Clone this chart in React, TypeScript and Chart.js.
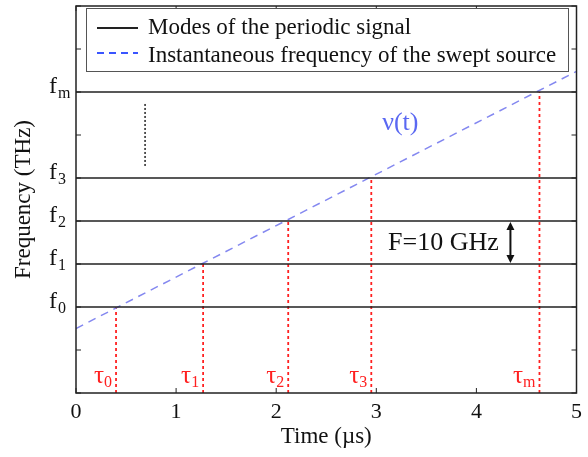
import React, { useEffect, useRef } from "react";
import { Chart, registerables } from "chart.js";

Chart.register(...registerables);

// ---- data ----
const timeTicks = [0, 1, 2, 3, 4, 5];
const modeNames = ["0", "1", "2", "3", "m"];
const modeLevels = [2, 3, 4, 5, 7];
const tauNames = ["0", "1", "2", "3", "m"];
const tauTimes = [0.4, 1.27, 2.12, 2.95, 4.63];
const sweepTimes = [0, 5];
const sweepFreqs = [1.5, 7.48];
const ellipsisTimes = [0.69, 0.69];
const ellipsisFreqs = [5.28, 6.77];
const spacingLabel = "F=10 GHz";
const spacingArrowTime = 4.34;
const spacingLabelTime = 3.67;
const sweepLabel = "ν(t)";
const sweepLabelTime = 3.24;
const sweepLabelFreq = 6.28;
const seriesLabels = ["Modes of the periodic signal", "Instantaneous frequency of the swept source"];

const SERIF = "'Liberation Serif', 'Times New Roman', serif";
const BLACK = "#222";
const BLUE_LINE = "#8488f0";
const BLUE_LEG = "#3a55ff";
const BLUE_TXT = "#5a68f2";
const RED = "#ff2020";

export default function App() {
  const ref = useRef<HTMLCanvasElement | null>(null);

  useEffect(() => {
    document.body.style.margin = "0";
    const canvas = ref.current;
    if (!canvas) return;

    const modeData: any[] = [];
    modeLevels.forEach((l) => {
      modeData.push({ x: 0, y: l }, { x: 5, y: l }, { x: 5, y: null });
    });
    const tauData: any[] = [];
    tauTimes.forEach((t, i) => {
      tauData.push({ x: t, y: 0 }, { x: t, y: modeLevels[i] }, { x: t, y: null });
    });

    const overlay = {
      id: "overlay",
      afterDraw(chart: any) {
        const ctx = chart.ctx as CanvasRenderingContext2D;
        const a = chart.chartArea;
        const xs = chart.scales.x;
        const ys = chart.scales.y;
        ctx.save();
        // frame
        ctx.strokeStyle = BLACK;
        ctx.lineWidth = 1.5;
        ctx.setLineDash([]);
        ctx.strokeRect(a.left, a.top, a.right - a.left, a.bottom - a.top);
        // inward ticks
        ctx.lineWidth = 1;
        timeTicks.forEach((t) => {
          const px = xs.getPixelForValue(t);
          ctx.beginPath();
          ctx.moveTo(px, a.bottom);
          ctx.lineTo(px, a.bottom - 5);
          ctx.moveTo(px, a.top);
          ctx.lineTo(px, a.top + 5);
          ctx.stroke();
        });
        for (let v = 0; v <= 9; v++) {
          const py = ys.getPixelForValue(v);
          ctx.beginPath();
          ctx.moveTo(a.left, py);
          ctx.lineTo(a.left + 5, py);
          ctx.moveTo(a.right, py);
          ctx.lineTo(a.right - 5, py);
          ctx.stroke();
        }
        // mode labels f_n
        ctx.fillStyle = "#111";
        ctx.textAlign = "left";
        ctx.textBaseline = "alphabetic";
        modeNames.forEach((n, i) => {
          const py = ys.getPixelForValue(modeLevels[i]);
          const x0 = 49;
          ctx.font = `24px ${SERIF}`;
          ctx.fillText("f", x0, py + 1);
          const w = ctx.measureText("f").width;
          ctx.font = `16px ${SERIF}`;
          ctx.fillText(n, x0 + w + 1, py + 6);
        });
        // tau labels
        ctx.fillStyle = RED;
        tauNames.forEach((n, i) => {
          const px = xs.getPixelForValue(tauTimes[i]);
          ctx.font = `16px ${SERIF}`;
          const ws = ctx.measureText(n).width;
          ctx.font = `25px ${SERIF}`;
          const wt = ctx.measureText("τ").width;
          const right = px - 4;
          ctx.fillText("τ", right - ws - wt, a.bottom - 10);
          ctx.font = `16px ${SERIF}`;
          ctx.fillText(n, right - ws, a.bottom - 6);
        });
        // nu(t) label
        ctx.fillStyle = BLUE_TXT;
        ctx.font = `26px ${SERIF}`;
        ctx.textAlign = "center";
        ctx.textBaseline = "middle";
        ctx.fillText(sweepLabel, xs.getPixelForValue(sweepLabelTime), ys.getPixelForValue(sweepLabelFreq));
        // spacing label + arrow
        const yTop = ys.getPixelForValue(modeLevels[2]);
        const yBot = ys.getPixelForValue(modeLevels[1]);
        ctx.fillStyle = "#111";
        ctx.font = `26px ${SERIF}`;
        ctx.fillText(spacingLabel, xs.getPixelForValue(spacingLabelTime), (yTop + yBot) / 2 + 1);
        const ax = xs.getPixelForValue(spacingArrowTime);
        ctx.strokeStyle = "#111";
        ctx.lineWidth = 2;
        ctx.beginPath();
        ctx.moveTo(ax, yTop + 4);
        ctx.lineTo(ax, yBot - 4);
        ctx.stroke();
        ctx.beginPath();
        ctx.moveTo(ax, yTop + 1);
        ctx.lineTo(ax - 4, yTop + 9);
        ctx.lineTo(ax + 4, yTop + 9);
        ctx.closePath();
        ctx.moveTo(ax, yBot - 1);
        ctx.lineTo(ax - 4, yBot - 9);
        ctx.lineTo(ax + 4, yBot - 9);
        ctx.closePath();
        ctx.fill();
        // legend
        const lx = 86, ly = 8, lw = 482, lh = 63;
        ctx.fillStyle = "#fff";
        ctx.fillRect(lx, ly, lw, lh);
        ctx.strokeStyle = "#555";
        ctx.lineWidth = 1;
        ctx.strokeRect(lx + 0.5, ly + 0.5, lw, lh);
        ctx.lineWidth = 2;
        ctx.strokeStyle = BLACK;
        ctx.beginPath();
        ctx.moveTo(97, 28);
        ctx.lineTo(138, 28);
        ctx.stroke();
        ctx.strokeStyle = BLUE_LEG;
        ctx.setLineDash([7, 5]);
        ctx.beginPath();
        ctx.moveTo(97, 53);
        ctx.lineTo(138, 53);
        ctx.stroke();
        ctx.setLineDash([]);
        ctx.fillStyle = "#111";
        ctx.font = `23px ${SERIF}`;
        ctx.textAlign = "left";
        ctx.textBaseline = "alphabetic";
        ctx.fillText(seriesLabels[0], 148, 34);
        ctx.fillText(seriesLabels[1], 148, 62);
        ctx.restore();
      },
    };

    const chart = new Chart(canvas, {
      type: "line",
      data: {
        datasets: [
          {
            label: seriesLabels[0],
            data: modeData,
            borderColor: BLACK,
            borderWidth: 1.5,
            pointRadius: 0,
            spanGaps: false,
          },
          {
            label: seriesLabels[1],
            data: sweepTimes.map((t, i) => ({ x: t, y: sweepFreqs[i] })),
            borderColor: BLUE_LINE,
            borderWidth: 1.5,
            borderDash: [8, 6],
            pointRadius: 0,
          },
          {
            label: "tau",
            data: tauData,
            borderColor: RED,
            borderWidth: 1.8,
            borderDash: [3, 3],
            pointRadius: 0,
            spanGaps: false,
          },
          {
            label: "ellipsis",
            data: ellipsisTimes.map((t, i) => ({ x: t, y: ellipsisFreqs[i] })),
            borderColor: BLACK,
            borderWidth: 1.5,
            borderDash: [2, 2],
            pointRadius: 0,
          },
        ],
      },
      options: {
        animation: false,
        responsive: false,
        layout: { padding: { top: 6, right: 9, left: 0, bottom: 0 } },
        plugins: { legend: { display: false }, tooltip: { enabled: false } },
        scales: {
          x: {
            type: "linear",
            min: 0,
            max: 5,
            ticks: { stepSize: 1, padding: 6, color: "#111", font: { family: SERIF, size: 22 } },
            grid: { display: false, drawTicks: false },
            border: { display: false },
            title: { display: true, text: "Time (µs)", color: "#111", font: { family: SERIF, size: 23 }, padding: { top: 0, bottom: 6 } },
            afterFit: (s: any) => { s.height = 64; },
          },
          y: {
            type: "linear",
            min: 0,
            max: 9,
            ticks: { stepSize: 1, display: false },
            grid: { display: false, drawTicks: false },
            border: { display: false },
            title: { display: true, text: "Frequency (THz)", color: "#111", font: { family: SERIF, size: 23 }, padding: { top: 10, bottom: 0 } },
            afterFit: (s: any) => { s.width = 76; },
          },
        },
      },
      plugins: [overlay],
    } as any);

    return () => chart.destroy();
  }, []);

  return (
    <div style={{ width: 588, height: 457 }}>
      <canvas ref={ref} width={588} height={457} />
    </div>
  );
}
